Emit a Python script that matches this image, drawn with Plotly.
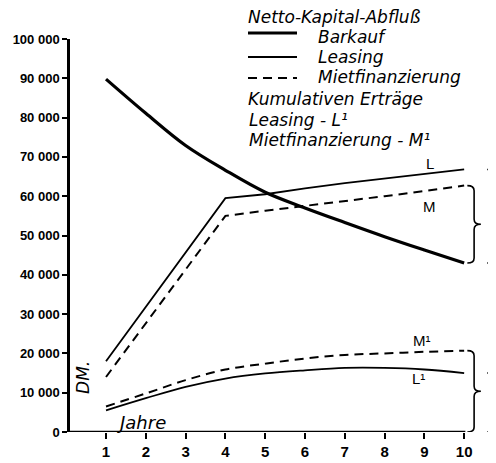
import plotly.graph_objs as go

# Jahre
jahre = [1, 2, 3, 4, 5, 6, 7, 8, 9, 10]

# Netto-Kapital-Abfluss (DM)
barkauf = [89800, 81100, 72900, 66600, 61000, 57000, 53300, 49700, 46300, 43000]
leasing = [18000, 31800, 45600, 59500, 60500, 62000, 63300, 64500, 65700, 66800]
miete = [14000, 27700, 41300, 55000, 56300, 57500, 58800, 60000, 61300, 62700]

# Kumulative Ertraege (DM)
leasing_l1 = [5500, 8600, 11500, 13600, 14900, 15700, 16300, 16300, 15900, 15000]
miete_m1 = [6500, 9800, 13200, 15900, 17400, 18700, 19600, 20000, 20400, 20700]

y_ticks = list(range(0, 100001, 10000))
y_labels = ["0" if v == 0 else f"{v:,}".replace(",", " ") for v in y_ticks]

HAND = "DejaVu Sans"
X0, X1 = 0.095, 10.8

# the page body has an 8px margin, so the figure is made that much smaller
OFF = 8
W, H = 496, 463
# plot area in window pixels, used to place the legend block
L, R, T, B = 70, 496, 39, 432


def px(x):
    return (x - L) / (R - L)


def py(y):
    return (B - y) / (B - T)


fig = go.Figure()
fig.add_trace(go.Scatter(x=jahre, y=barkauf, mode="lines", line_shape="spline",
                         line=dict(color="black", width=3.2)))
fig.add_trace(go.Scatter(x=jahre, y=leasing, mode="lines",
                         line=dict(color="black", width=1.8)))
fig.add_trace(go.Scatter(x=jahre, y=miete, mode="lines",
                         line=dict(color="black", width=2, dash="9px,6px")))
fig.add_trace(go.Scatter(x=jahre, y=leasing_l1, mode="lines", line_shape="spline",
                         line=dict(color="black", width=1.8)))
fig.add_trace(go.Scatter(x=jahre, y=miete_m1, mode="lines", line_shape="spline",
                         line=dict(color="black", width=2, dash="9px,6px")))


def brace(top, bottom, xa, xb, xt, ry=1300):
    ym = (top + bottom) / 2
    return (f"M {xa},{top} Q {xb},{top} {xb},{top - ry} L {xb},{ym + ry} "
            f"Q {xb},{ym} {xt},{ym} Q {xb},{ym} {xb},{ym - ry} "
            f"L {xb},{bottom + ry} Q {xb},{bottom} {xa},{bottom}")


shapes = [
    dict(type="line", xref="x", yref="y", x0=X0, x1=jahre[-1] + 0.03, y0=0, y1=0,
         line=dict(color="black", width=2.5)),
    dict(type="path", xref="x", yref="y",
         path=brace(miete[-1], barkauf[-1], 10.08, 10.25, 10.42),
         line=dict(color="black", width=1.6)),
    dict(type="path", xref="x", yref="y",
         path=brace(leasing[-1], barkauf[-1], 10.58, 10.74, 10.92),
         line=dict(color="black", width=1.6)),
    dict(type="path", xref="x", yref="y",
         path=brace(miete_m1[-1], 0, 10.08, 10.25, 10.42),
         line=dict(color="black", width=1.6)),
    dict(type="path", xref="x", yref="y",
         path=brace(leasing_l1[-1], 0, 10.58, 10.74, 10.92),
         line=dict(color="black", width=1.6)),
    # legend samples
    dict(type="line", xref="paper", yref="paper", x0=px(248), x1=px(297), y0=py(33), y1=py(33),
         line=dict(color="black", width=3.2)),
    dict(type="line", xref="paper", yref="paper", x0=px(248), x1=px(297), y0=py(57), y1=py(57),
         line=dict(color="black", width=1.8)),
    dict(type="line", xref="paper", yref="paper", x0=px(248), x1=px(297), y0=py(78), y1=py(78),
         line=dict(color="black", width=2, dash="9px,6px")),
]

legend_text = [
    ("Netto-Kapital-Abfluß", 247, 17),
    ("Barkauf", 317, 37),
    ("Leasing", 317, 57),
    ("Mietfinanzierung", 317, 77),
    ("Kumulativen Erträge", 247, 99),
    ("Leasing - L¹", 248, 120),
    ("Mietfinanzierung - M¹", 248, 140),
]
annotations = [dict(text=f"<i>{t}</i>", xref="paper", yref="paper", x=px(x), y=py(y),
                    xanchor="left", yanchor="middle", showarrow=False, borderpad=0,
                    font=dict(family=HAND, size=17, color="black"))
               for t, x, y in legend_text]

plain = dict(family="Liberation Sans", size=15, color="black")
for t, x, y in [("L", 9.14, 68300), ("M", 9.14, 57300), ("M¹", 8.94, 23400), ("L¹", 8.84, 13700)]:
    annotations.append(dict(text=t, x=x, y=y, showarrow=False, font=plain))
annotations.append(dict(text="<i>Jahre</i>", x=1.88, y=2500, showarrow=False,
                        font=dict(family=HAND, size=18, color="black")))
annotations.append(dict(text="<i>DM.</i>", x=0.42, y=14000, showarrow=False, textangle=-90,
                        font=dict(family=HAND, size=17, color="black")))

fig.update_layout(
    width=W - OFF, height=H - OFF,
    margin=dict(l=L - OFF, r=0, t=T - OFF, b=H - B),
    paper_bgcolor="white", plot_bgcolor="white",
    showlegend=False,
    shapes=shapes,
    annotations=annotations,
)
fig.update_xaxes(range=[X0, X1], tickvals=jahre, ticks="outside", ticklen=6, tickwidth=2,
                 tickcolor="black", showgrid=False, zeroline=False, showline=False,
                 tickfont=dict(family="Liberation Sans", size=15, color="black", weight="bold"))
fig.update_yaxes(range=[0, 100000], tickvals=y_ticks, ticktext=y_labels, ticks="outside",
                 ticklen=5, tickwidth=2, tickcolor="black", showgrid=False, zeroline=False,
                 showline=True, linewidth=2.5, linecolor="black",
                 tickfont=dict(family="Liberation Sans", size=13, color="black", weight="bold"))

fig.write_html("out.html")
